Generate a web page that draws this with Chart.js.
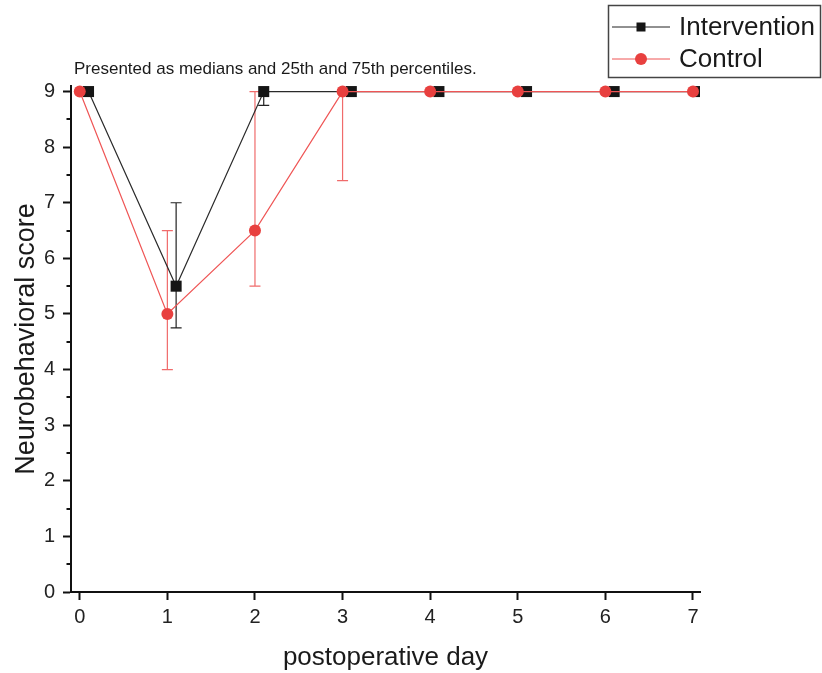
<!DOCTYPE html>
<html><head><meta charset="utf-8">
<script src="https://cdn.jsdelivr.net/npm/chart.js@4.4.1/dist/chart.umd.min.js"></script>
<style>html,body{margin:0;padding:0;background:#fff;}canvas{display:block;}</style>
</head><body>
<canvas id="c" width="822" height="673"></canvas>
<script>
// ---- data ----
const days = [0, 1, 2, 3, 4, 5, 6, 7];
const interventionX = [0.1, 1.1, 2.1, 3.1, 4.1, 5.1, 6.1, 7.05]; // plotted slightly offset in the original
const interventionMedian = [9, 5.5, 9, 9, 9, 9, 9, 9];
const interventionQ1 = [9, 4.75, 8.75, 9, 9, 9, 9, 9];
const interventionQ3 = [9, 7, 9, 9, 9, 9, 9, 9];
const controlMedian = [9, 5, 6.5, 9, 9, 9, 9, 9];
const controlQ1 = [9, 4, 5.5, 7.4, 9, 9, 9, 9];
const controlQ3 = [9, 6.5, 9, 9, 9, 9, 9, 9];
const xTickLabels = ['0', '1', '2', '3', '4', '5', '6', '7'];
const yTickLabels = ['0', '1', '2', '3', '4', '5', '6', '7', '8', '9'];
const seriesNames = ['Intervention', 'Control'];
const subtitle = 'Presented as medians and 25th and 75th percentiles.';
const xTitle = 'postoperative day';
const yTitle = 'Neurobehavioral score';

const FONT = "'Liberation Sans', Arial, Helvetica, sans-serif";
const RED = '#e8403f';
const RED_LINE = '#ef5555';
const RED_ERR = '#f06b6b';
const BLACK = '#151515';

const errorBars = {
  id: 'errorBars',
  beforeDatasetsDraw(chart) {
    const ctx = chart.ctx;
    const xs = chart.scales.x, ys = chart.scales.y;
    chart.data.datasets.forEach((ds) => {
      ctx.save();
      ctx.strokeStyle = ds.errColor;
      ctx.lineWidth = 1.2;
      ds.data.forEach((p, i) => {
        const lo = ds.q1[i], hi = ds.q3[i];
        if (lo === hi) return;
        const px = xs.getPixelForValue(p.x);
        const y1 = ys.getPixelForValue(lo), y2 = ys.getPixelForValue(hi);
        ctx.beginPath();
        ctx.moveTo(px, y1); ctx.lineTo(px, y2);
        ctx.moveTo(px - 5.5, y1); ctx.lineTo(px + 5.5, y1);
        ctx.moveTo(px - 5.5, y2); ctx.lineTo(px + 5.5, y2);
        ctx.stroke();
      });
      ctx.restore();
    });
  }
};

const decorations = {
  id: 'decorations',
  afterDraw(chart) {
    const ctx = chart.ctx;
    const ys = chart.scales.y;
    const left = chart.chartArea.left;
    // minor y ticks
    ctx.save();
    ctx.strokeStyle = '#111';
    ctx.lineWidth = 2;
    for (let v = 0; v < yTickLabels.length - 1; v++) {
      const py = Math.round(ys.getPixelForValue(v + 0.5));
      ctx.beginPath();
      ctx.moveTo(left - 4.5, py); ctx.lineTo(left, py);
      ctx.stroke();
    }
    ctx.restore();
    // subtitle
    ctx.save();
    ctx.fillStyle = '#1a1a1a';
    ctx.font = '17px ' + FONT;
    ctx.textBaseline = 'alphabetic';
    ctx.textAlign = 'left';
    ctx.fillText(subtitle, 74, 73.5);
    ctx.restore();
    // legend
    ctx.save();
    ctx.strokeStyle = '#444';
    ctx.lineWidth = 1.5;
    ctx.strokeRect(608.5, 5.5, 212, 72);
    const rows = [
      {y: 27, color: BLACK, line: '#222', style: 'rect', name: seriesNames[0]},
      {y: 59, color: RED, line: RED_LINE, style: 'circle', name: seriesNames[1]}
    ];
    rows.forEach(r => {
      ctx.strokeStyle = r.line;
      ctx.lineWidth = 1;
      ctx.beginPath(); ctx.moveTo(612, r.y); ctx.lineTo(670, r.y); ctx.stroke();
      ctx.fillStyle = r.color;
      if (r.style === 'rect') {
        ctx.fillRect(641 - 4.5, r.y - 4.5, 9, 9);
      } else {
        ctx.beginPath(); ctx.arc(641, r.y, 6, 0, Math.PI * 2); ctx.fill();
      }
      ctx.fillStyle = '#1a1a1a';
      ctx.font = '26px ' + FONT;
      ctx.textBaseline = 'middle';
      ctx.textAlign = 'left';
      ctx.fillText(r.name, 679, r.y + 1);
    });
    ctx.restore();
  }
};

const interventionData = interventionX.map((x, i) => ({x: x, y: interventionMedian[i]}));
const controlData = days.map((d, i) => ({x: d, y: controlMedian[i]}));

new Chart(document.getElementById('c'), {
  type: 'line',
  data: {
    datasets: [
      {
        label: seriesNames[0], data: interventionData, q1: interventionQ1, q3: interventionQ3,
        errColor: '#222', borderColor: '#2a2a2a', borderWidth: 1.2,
        pointStyle: 'rect', pointRadius: 7.8, pointBackgroundColor: BLACK, pointBorderWidth: 0,
        pointBorderColor: BLACK, tension: 0, order: 1,
        clip: {left: 0, right: 0, top: 10, bottom: 0}
      },
      {
        label: seriesNames[1], data: controlData, q1: controlQ1, q3: controlQ3,
        errColor: RED_ERR, borderColor: RED_LINE, borderWidth: 1.2,
        pointStyle: 'circle', pointRadius: 6, pointBackgroundColor: RED, pointBorderWidth: 0,
        pointBorderColor: RED, tension: 0, order: 0,
        clip: {left: 0, right: 0, top: 10, bottom: 0}
      }
    ]
  },
  options: {
    responsive: false,
    animation: false,
    devicePixelRatio: 1,
    layout: {padding: {left: 0, top: 86, right: 122, bottom: 0}},
    plugins: {legend: {display: false}, tooltip: {enabled: false}, title: {display: false}},
    scales: {
      x: {
        type: 'linear', min: -0.1, max: 7.08,
        afterFit(s) { s.height = 81; },
        afterBuildTicks(s) { s.ticks = xTickLabels.map(t => ({value: Number(t)})); },
        ticks: {
          callback: (v) => xTickLabels[v] !== undefined ? xTickLabels[v] : '',
          font: {size: 20, family: FONT}, color: '#222', padding: 5, maxRotation: 0, autoSkip: false
        },
        grid: {drawOnChartArea: false, drawTicks: true, tickLength: 8, tickWidth: 2, tickColor: '#111'},
        border: {display: true, color: '#111', width: 2},
        title: {display: true, text: xTitle, font: {size: 26, family: FONT}, color: '#1a1a1a', padding: {top: 0, bottom: 0}}
      },
      y: {
        type: 'linear', min: 0, max: 9.1,
        afterFit(s) { s.width = 71; },
        afterBuildTicks(s) { s.ticks = yTickLabels.map(t => ({value: Number(t)})); },
        ticks: {
          callback: (v) => yTickLabels[v] !== undefined ? yTickLabels[v] : '',
          font: {size: 20, family: FONT}, color: '#222', padding: 8, autoSkip: false
        },
        grid: {drawOnChartArea: false, drawTicks: true, tickLength: 8, tickWidth: 2, tickColor: '#111'},
        border: {display: true, color: '#111', width: 2},
        title: {display: true, text: yTitle, font: {size: 27, family: FONT}, color: '#1a1a1a', padding: {top: 10, bottom: 0}}
      }
    }
  },
  plugins: [errorBars, decorations]
});
</script>
</body></html>
